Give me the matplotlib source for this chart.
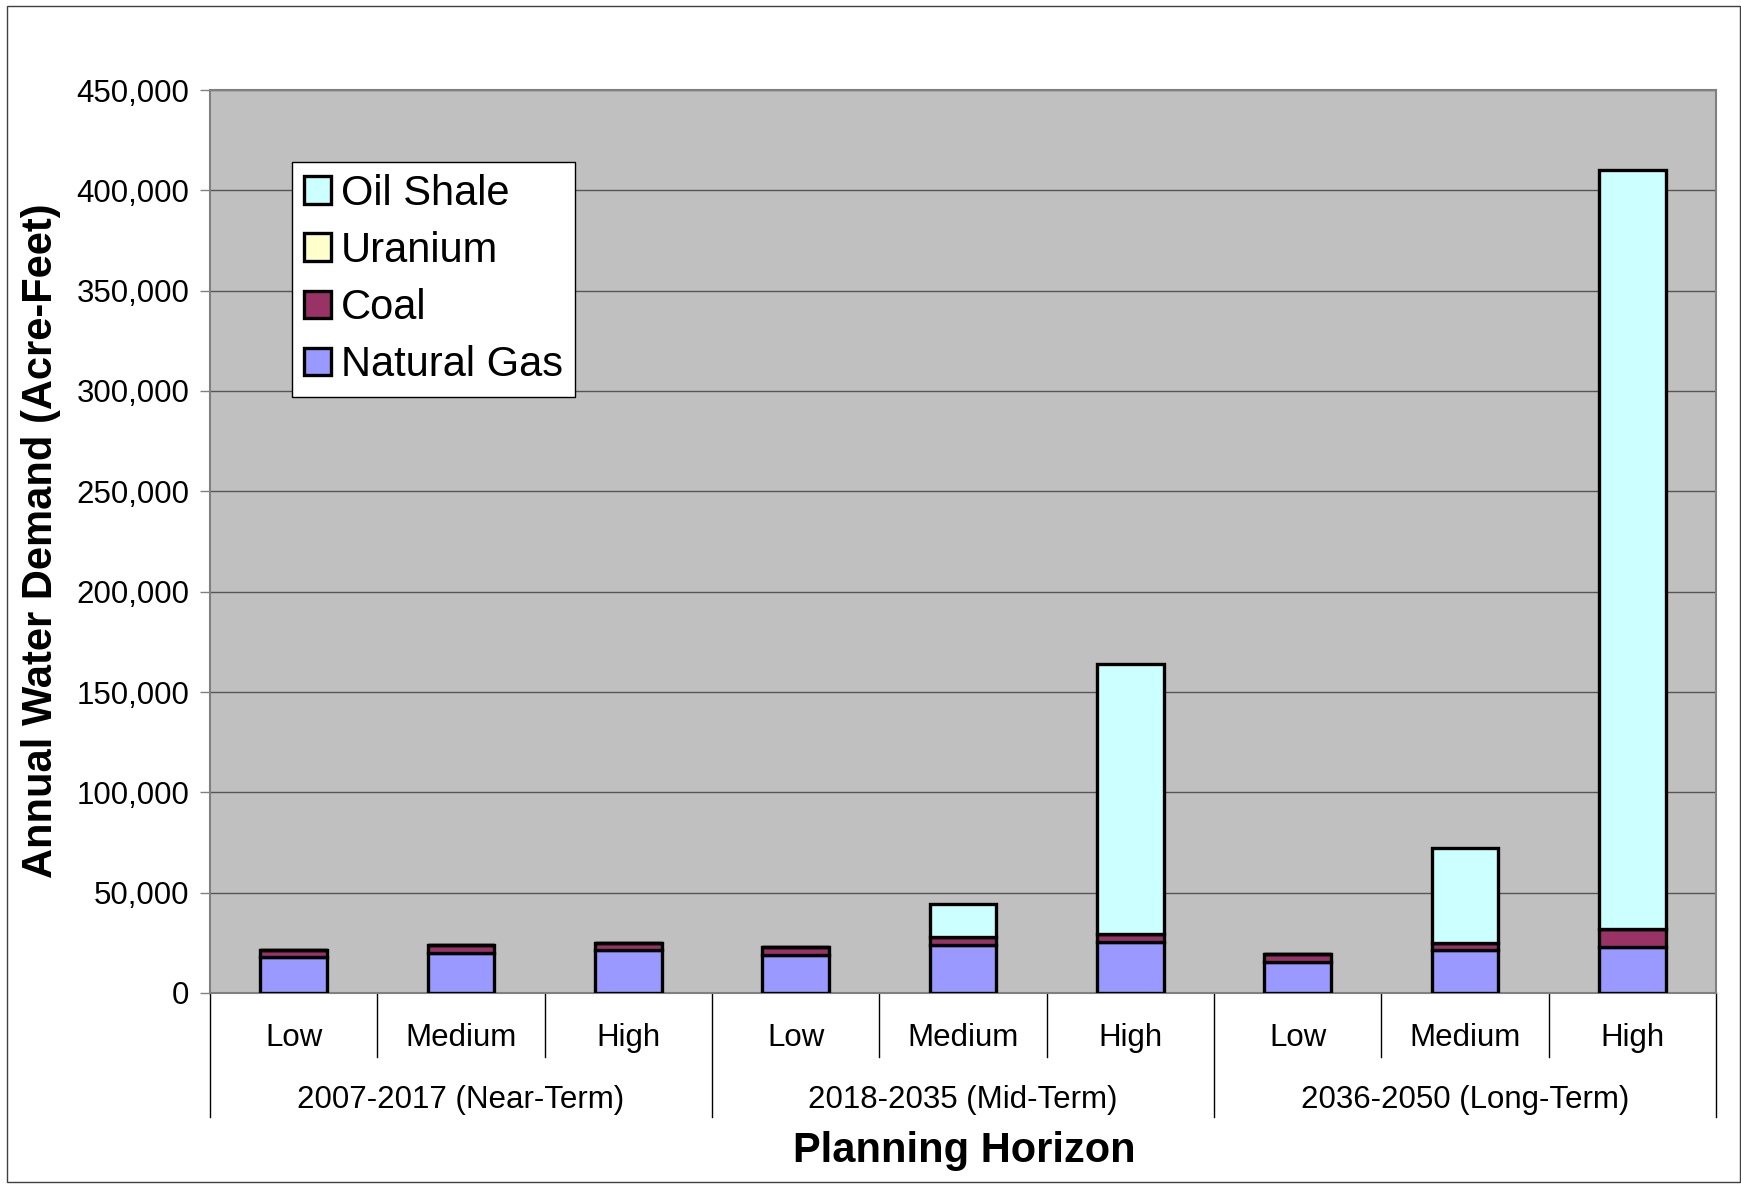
import matplotlib.pyplot as plt
from matplotlib.patches import Rectangle
from matplotlib.ticker import FuncFormatter

plt.rcParams['font.family'] = ['Liberation Sans', 'DejaVu Sans']

# water demand by planning horizon and scenario (acre-feet)
scenarios = ['Low', 'Medium', 'High'] * 3
horizons = ['2007-2017 (Near-Term)', '2018-2035 (Mid-Term)', '2036-2050 (Long-Term)']
natural_gas = [17900, 19800, 21600, 18900, 23700, 25200, 15300, 21400, 22900]
coal = [3400, 4200, 3400, 3800, 4300, 4200, 4000, 3700, 9100]
uranium = [0, 0, 0, 0, 0, 0, 0, 0, 0]
oil_shale = [0, 0, 0, 0, 16200, 134600, 0, 47300, 378000]

series = [('Natural Gas', natural_gas, '#9999FF'),
          ('Coal', coal, '#993366'),
          ('Uranium', uranium, '#FFFFCC'),
          ('Oil Shale', oil_shale, '#CCFFFF')]

W, H = 1741, 1184
fig = plt.figure(figsize=(W / 100, H / 100), dpi=100)
ax = fig.add_axes([210 / W, 1 - 993 / H, 1506 / W, 903 / H])
ax.set_facecolor('#C0C0C0')

x = list(range(len(scenarios)))
bottom = [0] * len(x)
handles = []
for name, vals, col in series:
    b = ax.bar(x, vals, 0.4, bottom=bottom, color=col, edgecolor='black',
               linewidth=2.4, label=name, zorder=3)
    handles.append(b)
    bottom = [p + q for p, q in zip(bottom, vals)]

ax.set_xlim(-0.5, 8.5)
ax.set_ylim(0, 450000)
ax.set_yticks(range(0, 450001, 50000))
ax.yaxis.set_major_formatter(FuncFormatter(lambda v, p: f'{int(v):,}'))
ax.tick_params(axis='y', labelsize=22.5, length=7, width=1, color='#808080', pad=8)
ax.set_xticks([])
ax.grid(axis='y', color='#555555', linewidth=1, zorder=1)
for s in ax.spines.values():
    s.set_color('#808080')
    s.set_linewidth(1.5)

# two-level category axis underneath
tr = ax.get_xaxis_transform()
for i in [0.5, 1.5, 3.5, 4.5, 6.5, 7.5]:
    ax.plot([i, i], [0, -0.071], transform=tr, color='black', lw=1, clip_on=False)
for i in [-0.5, 2.5, 5.5, 8.5]:
    ax.plot([i, i], [0, -0.1373], transform=tr, color='black', lw=1, clip_on=False)
for i, s in enumerate(scenarios):
    ax.text(i, -0.0498, s, transform=tr, ha='center', va='center', fontsize=22.5)
for g, h in enumerate(horizons):
    ax.text(3 * g + 1, -0.1185, h, transform=tr, ha='center', va='center', fontsize=22.5)

fig.text(964 / W, 1 - 1151 / H, 'Planning Horizon', ha='center', va='center',
         fontsize=30, fontweight='bold')
fig.text(41 / W, 1 - 541 / H, 'Annual Water Demand (Acre-Feet)', rotation=90,
         ha='center', va='center', fontsize=30, fontweight='bold')

leg = ax.legend(handles[::-1], [s[0] for s in series][::-1], loc='upper left',
                bbox_to_anchor=(0.0544, 0.920), borderaxespad=0, fontsize=30,
                frameon=True, fancybox=False, edgecolor='black', framealpha=1,
                handlelength=0.65, handleheight=0.65, handletextpad=0.25,
                labelspacing=0.41, borderpad=0.28)
leg.get_frame().set_linewidth(1)
leg.set_zorder(5)

fig.patches.append(Rectangle((7 / W, 2 / H), 1733 / W, 1176 / H, transform=fig.transFigure,
                             fill=False, edgecolor='#404040', linewidth=1))

fig.savefig('out.png', dpi=100, facecolor='white')
